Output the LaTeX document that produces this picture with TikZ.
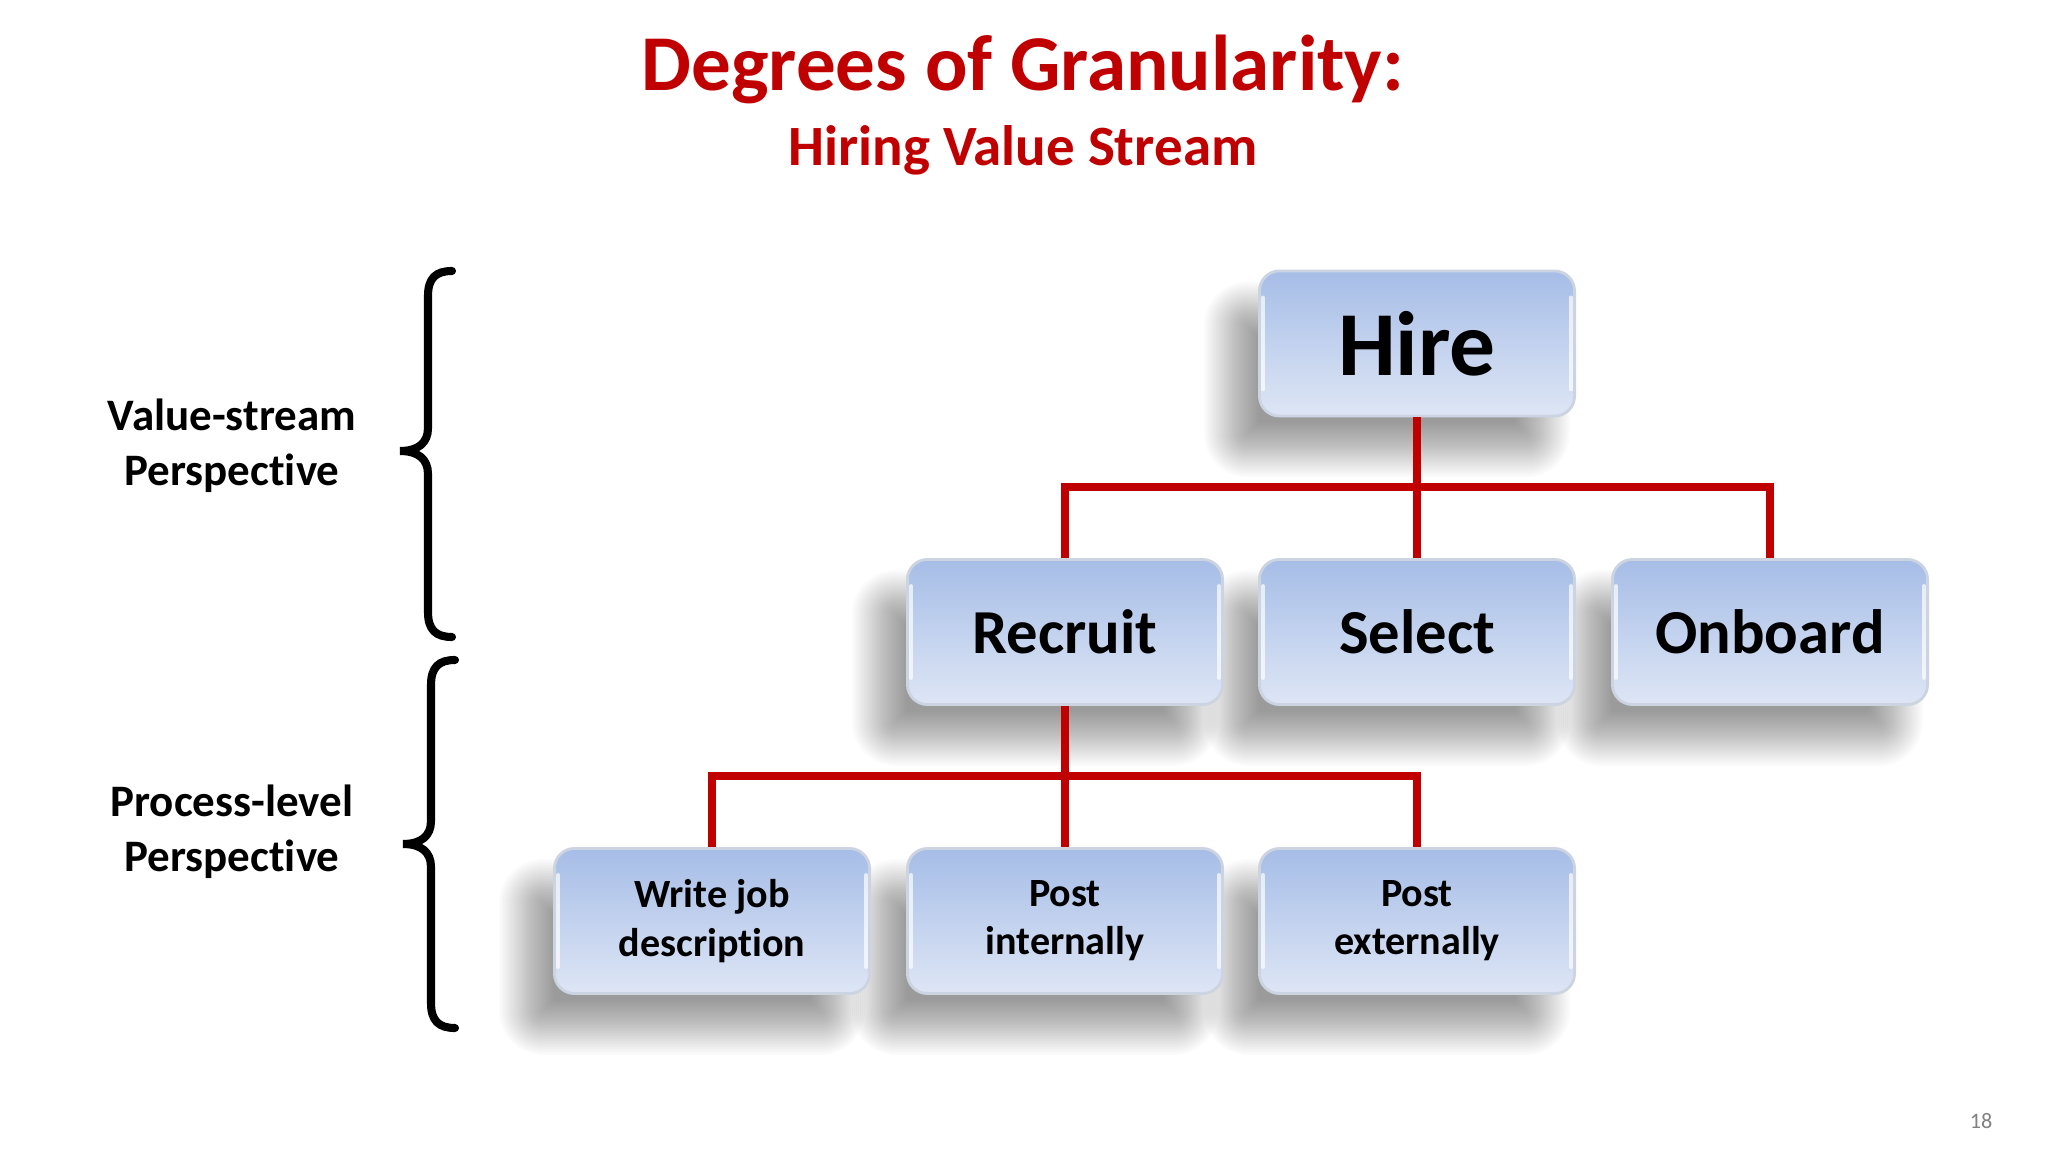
\documentclass[tikz,border=0pt]{standalone}
\usepackage{fontspec}
\setmainfont[Ligatures=NoCommon]{Carlito}
\usetikzlibrary{backgrounds}
\definecolor{titlered}{RGB}{192,0,0}
\definecolor{boxtop}{RGB}{166,189,231}
\definecolor{boxbot}{RGB}{222,230,245}
\definecolor{boxedge}{RGB}{205,212,225}
\tikzset{
  box/.style={rectangle, rounded corners=0.2cm, minimum width=3.15cm, minimum height=1.45cm,
    top color=boxtop, bottom color=boxbot, draw=boxedge, line width=0.8pt,
    align=center, font=\bfseries, text=black},
  shadowlayer/.style={fill=black, opacity=0.016},
  conn/.style={draw=titlered, line width=2.3pt},
  brace/.style={draw=black, line width=2.3pt, line cap=round},
  side/.style={align=center, font=\bfseries\fontsize{12.8}{15.6}\selectfont},
  gloss/.style={draw=white, line width=1.1pt, opacity=0.7, line cap=round}
}
\begin{document}
\begin{tikzpicture}[x=0.01cm, y=-0.01cm]
\useasboundingbox (0,0) rectangle (2048,1152);
% titles
\node[anchor=base, text=titlered, font=\bfseries\fontsize{22.5}{27}\selectfont] (title) at (1023,91) {Degrees of Granularity:};
\node[anchor=base, text=titlered, font=\bfseries\fontsize{16.2}{20}\selectfont] (subtitle) at (1023,166) {Hiring Value Stream};
% boxes
\node[box, font=\bfseries\fontsize{26}{30}\selectfont] (hire) at (1417,343.5) {Hire};
\node[box, font=\bfseries\fontsize{17.8}{22}\selectfont] (recruit) at (1065,632) {Recruit};
\node[box, font=\bfseries\fontsize{17.8}{22}\selectfont] (select) at (1417,632) {Select};
\node[box, font=\bfseries\fontsize{17.8}{22}\selectfont] (onboard) at (1770,632) {Onboard};
\node[box, font=\bfseries\fontsize{11.4}{13.7}\selectfont] (write) at (712,921) {Write job\\description};
\node[box, font=\bfseries\fontsize{11.4}{13.7}\selectfont] (postint) at (1065,921) {Post\\internally};
\node[box, font=\bfseries\fontsize{11.4}{13.7}\selectfont] (postext) at (1417,921) {Post\\externally};
% soft shadows and background
\begin{scope}[on background layer]
  \fill[white] (0,0) rectangle (2048,1152);
  \foreach \n in {hire,recruit,select,onboard,write,postint,postext}{
    \foreach \e [evaluate=\e as \rr using {max(3,20+\e)*0.2845}] in {24,22,...,-30}{
      \fill[shadowlayer, rounded corners=\rr pt] ([shift={(-30-\e,36-\e)}]\n.north west) rectangle ([shift={(-30+\e,36+\e)}]\n.south east);
    }
  }
\end{scope}
% gloss highlights
\foreach \n in {hire,recruit,select,onboard,write,postint,postext}{
  \draw[gloss] ([xshift=0.05cm,yshift=-0.28cm]\n.north west) -- ([xshift=0.05cm,yshift=0.28cm]\n.south west);
  \draw[gloss] ([xshift=-0.05cm,yshift=-0.28cm]\n.north east) -- ([xshift=-0.05cm,yshift=0.28cm]\n.south east);
}
% connectors
\coordinate (j1) at (1417,487);
\coordinate (j2) at (1065,776);
\draw[conn] (hire.south) -- (select.north);
\draw[conn] (recruit.north) |- (j1) -| (onboard.north);
\draw[conn] (recruit.south) -- (postint.north);
\draw[conn] (write.north) |- (j2) -| (postext.north);
% braces
\draw[brace] (452,271) .. controls (436,271) and (428,278) .. (428,296) -- (428,428) .. controls (428,443) and (418,451) .. (400,451) .. controls (418,451) and (428,459) .. (428,474) -- (428,612) .. controls (428,630) and (436,637) .. (452,637);
\draw[brace] (455,660) .. controls (439,660) and (431,667) .. (431,685) -- (431,821) .. controls (431,836) and (421,844) .. (403,844) .. controls (421,844) and (431,852) .. (431,867) -- (431,1003) .. controls (431,1021) and (439,1028) .. (455,1028);
% side labels
\node[side] (vs) at (232,446) {Value-stream\\Perspective};
\node[side] (pl) at (232,832) {Process-level\\Perspective};
% page number
\node[text=gray, font=\fontsize{6.3}{7}\selectfont] (pg) at (1981,1121) {18};
\end{tikzpicture}
\end{document}
